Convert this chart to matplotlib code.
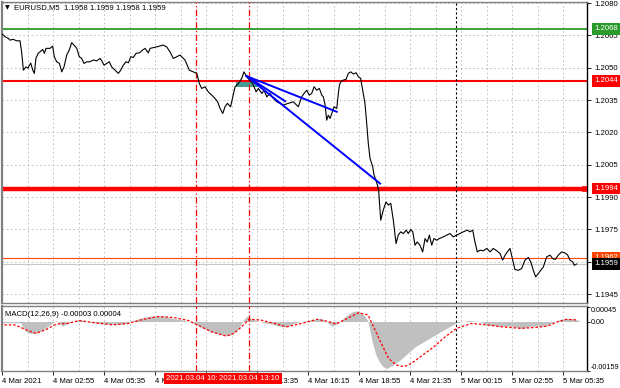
import numpy as np
import matplotlib
matplotlib.use("Agg")
import matplotlib.pyplot as plt
import matplotlib.transforms as mtransforms
from matplotlib.patches import Rectangle

plt.rcParams['font.family'] = ['Liberation Sans', 'DejaVu Sans']

#%% data (x = 5-minute bar number since 4 Mar 2021 00:00)

price_bars = [2.8, 4.9, 7.0, 8.0, 9.9, 12.2, 14.3, 15.4, 16.4, 18.1, 19.3, 21.0, 22.3, 23.3, 24.3,
              25.8, 26.9, 28.5, 29.6, 30.6, 33.1, 34.8, 35.8, 37.3, 39.0, 40.5, 41.9, 43.6, 45.2,
              46.7, 48.2, 49.9, 51.5, 53.0, 54.5, 56.2, 58.2, 60.3, 62.4, 64.5, 65.6, 67.0, 68.7,
              70.3, 71.8, 73.9, 76.0, 77.5, 79.1, 80.8, 82.3, 83.8, 85.4, 87.1, 89.2, 90.7, 92.7,
              94.8, 95.9, 100.1, 104.0, 106.3, 108.4, 110.5, 114.7, 117.8, 120.5, 123.0, 125.2,
              126.8, 128.3, 130.4, 132.4, 134.6, 136.6, 138.3, 139.8, 141.5, 142.9, 144.4, 146.4,
              147.8, 149.2, 151.3, 153.4, 154.8, 156.5, 158.2, 160.3, 162.4, 163.8, 166.0, 167.4,
              169.1, 171.1, 173.2, 175.4, 177.4, 179.5, 182.6, 185.8, 188.9, 191.0, 192.5, 194.2,
              195.8, 197.3, 198.8, 200.4, 202.1, 203.6, 204.6, 205.7, 206.7, 207.7, 208.8, 209.9,
              211.3, 213.0, 214.0, 214.7, 215.5, 217.2, 218.8, 220.3, 221.8, 223.4, 225.1, 226.6,
              228.0, 229.3, 230.7, 231.8, 232.8, 233.9, 235.6, 236.4, 237.6, 238.5, 239.3, 239.7,
              240.6, 242.2, 243.9, 245.4, 246.9, 248.5, 250.2, 251.6, 253.1, 254.8, 256.5, 257.9,
              259.4, 260.7, 262.1, 263.5, 265.2, 266.9, 268.4, 269.8, 271.1, 272.6, 274.0, 275.7,
              277.4, 279.9, 282.0, 284.1, 286.1, 288.3, 290.3, 292.4, 294.9, 296.6, 298.3, 299.7,
              301.2, 302.9, 305.0, 307.1, 309.2, 311.2, 313.4, 315.4, 317.1, 318.6, 320.0, 321.7,
              323.4, 324.8, 326.9, 329.0, 331.1, 333.2, 334.7, 336.3, 337.8, 339.5, 341.0, 342.6,
              344.7, 346.8, 348.5, 350.0, 352.0, 354.1, 356.2, 357.9, 359.3, 361.0, 362.0, 363.5]
price_vals = [1.20659, 1.20644, 1.20636, 1.20628, 1.20632, 1.20625, 1.20625, 1.20568, 1.20489,
              1.20504, 1.20498, 1.20522, 1.20489, 1.20474, 1.20545, 1.20568, 1.20574, 1.20585,
              1.20567, 1.20590, 1.20590, 1.20600, 1.20551, 1.20528, 1.20520, 1.20481, 1.20504,
              1.20559, 1.20582, 1.20616, 1.20605, 1.20590, 1.20551, 1.20543, 1.20520, 1.20528,
              1.20528, 1.20536, 1.20532, 1.20543, 1.20532, 1.20512, 1.20520, 1.20528, 1.20504,
              1.20489, 1.20474, 1.20489, 1.20512, 1.20528, 1.20523, 1.20551, 1.20548, 1.20567,
              1.20569, 1.20579, 1.20590, 1.20569, 1.20590, 1.20597, 1.20605, 1.20597, 1.20574,
              1.20543, 1.20559, 1.20536, 1.20489, 1.20481, 1.20474, 1.20427, 1.20404, 1.20412,
              1.20388, 1.20373, 1.20358, 1.20342, 1.20311, 1.20288, 1.20319, 1.20335, 1.20319,
              1.20365, 1.20412, 1.20427, 1.20451, 1.20481, 1.20458, 1.20443, 1.20427, 1.20388,
              1.20404, 1.20381, 1.20396, 1.20365, 1.20381, 1.20358, 1.20342, 1.20335, 1.20327,
              1.20335, 1.20342, 1.20319, 1.20365, 1.20381, 1.20396, 1.20373, 1.20381, 1.20412,
              1.20396, 1.20404, 1.20373, 1.20365, 1.20327, 1.20257, 1.20280, 1.20265, 1.20288,
              1.20319, 1.20311, 1.20381, 1.20420, 1.20435, 1.20443, 1.20446, 1.20474, 1.20481,
              1.20471, 1.20477, 1.20458, 1.20451, 1.20396, 1.20335, 1.20242, 1.20149, 1.20079,
              1.20040, 1.20002, 1.19979, 1.19956, 1.19932, 1.19886, 1.19793, 1.19840, 1.19878,
              1.19863, 1.19871, 1.19793, 1.19685, 1.19724, 1.19739, 1.19731, 1.19747, 1.19731,
              1.19750, 1.19739, 1.19677, 1.19692, 1.19677, 1.19646, 1.19708, 1.19692, 1.19724,
              1.19677, 1.19708, 1.19700, 1.19708, 1.19716, 1.19724, 1.19731, 1.19716, 1.19724,
              1.19731, 1.19739, 1.19747, 1.19739, 1.19747, 1.19692, 1.19646, 1.19654, 1.19651,
              1.19662, 1.19646, 1.19662, 1.19651, 1.19639, 1.19608, 1.19631, 1.19646, 1.19662,
              1.19608, 1.19564, 1.19561, 1.19569, 1.19608, 1.19620, 1.19600, 1.19561, 1.19530,
              1.19546, 1.19561, 1.19576, 1.19623, 1.19631, 1.19615, 1.19611, 1.19631, 1.19646,
              1.19641, 1.19631, 1.19608, 1.19600, 1.19584, 1.19590]

macd_bars = [1.8, 14.8, 16.0, 18.3, 20.7, 24.2, 27.8, 31.4, 34.9, 37.3, 40.8, 44.4, 49.1, 51.5,
             56.2, 63.3, 72.8, 79.9, 84.6, 89.4, 96.5, 103.6, 110.7, 117.8, 122.5, 127.2, 134.3,
             141.4, 146.2, 149.7, 152.1, 154.5, 156.8, 159.2, 162.7, 167.5, 172.2, 178.1, 181.7,
             186.4, 191.2, 195.9, 203.0, 206.5, 210.1, 213.6, 216.0, 219.6, 223.1, 226.7, 230.2,
             232.6, 235.0, 237.3, 239.7, 242.0, 244.4, 248.0, 252.7, 257.4, 262.2, 269.3, 276.4,
             283.5, 288.2, 295.3, 302.4, 307.2, 314.3, 321.4, 328.5, 335.6, 342.7, 347.4, 352.1,
             356.9, 361.6, 365.2]
macd_vals = [-0.00004, -0.00004, -0.00017, -0.00033, -0.00038, -0.00038, -0.00030, -0.00017,
             -0.00004, 0.00003, -0.00015, -0.00006, 0.00003, 0.00007, 0.0, -0.00006, -0.00009,
             -0.00008, 0.00002, 0.00010, 0.00018, 0.00018, 0.00010, 0.00003, -0.00004, -0.00017,
             -0.00033, -0.00044, -0.00044, -0.00033, -0.00017, 0.00005, 0.00018, 0.00010,
             0.00003, -0.00004, -0.00008, -0.00017, -0.00017, -0.00006, 0.0, 0.00005, 0.00010,
             0.0, -0.00015, -0.00006, 0.00005, 0.00021, 0.00032, 0.00034, 0.00021, 0.0,
             -0.00060, -0.00103, -0.00129, -0.00145, -0.00151, -0.00140, -0.00124, -0.00103,
             -0.00081, -0.00060, -0.00038, -0.00017, -0.00004, 0.00003, 0.0, -0.00011, -0.00015,
             -0.00015, -0.00022, -0.00015, -0.00015, -0.00006, 0.00005, 0.00010, 0.00008, 0.00003]

signal_bars = [1.8, 11.2, 18.3, 24.2, 30.2, 37.3, 44.4, 51.5, 61.0, 72.8, 82.3, 91.7, 101.2,
               110.7, 120.1, 127.2, 134.3, 143.8, 148.5, 153.3, 158.0, 165.1, 172.2, 181.7,
               191.2, 200.6, 207.7, 212.5, 219.6, 226.7, 232.6, 236.1, 240.9, 245.6, 250.3,
               255.1, 259.8, 266.9, 274.0, 281.1, 288.2, 297.7, 307.2, 316.6, 328.5, 338.0,
               345.1, 352.1, 356.9, 364.0]
signal_vals = [-0.00011, -0.00011, -0.00027, -0.00038, -0.00027, -0.00008, -0.00006, 0.00003,
               -0.00004, -0.00011, -0.00006, 0.00007, 0.00016, 0.00013, 0.00003, -0.00015,
               -0.00033, -0.00047, -0.00038, -0.00017, 0.00007, 0.00005, -0.00004, -0.00017,
               -0.00006, 0.00007, 0.0, -0.00008, 0.00010, 0.00028, 0.00021, -0.00017, -0.00070,
               -0.00119, -0.00140, -0.00145, -0.00135, -0.00108, -0.00081, -0.00049, -0.00022,
               -0.00006, -0.00011, -0.00017, -0.00022, -0.00019, -0.00015, 0.0, 0.00007, 0.00005]

# horizontal levels: (price, colour, width)
level_prices = [1.2068, 1.2044, 1.1994, 1.1962]
level_colors = ['#2a9a2a', '#ff0000', '#ff0000', '#ff4500']
level_widths = [1.3, 1.5, 3.2, 0.8]
bid_price = 1.1959

# trend lines drawn from one anchor
trend_start = (156.5, 1.20461)
trend_ends = [(213.0, 1.20296), (240.2, 1.19963), (180.6, 1.20345)]
box_bars = (149.8, 163.6)
box_prices = (1.20410, 1.2044)

price_ticks = [1.2080, 1.2065, 1.2050, 1.2035, 1.2020, 1.2005, 1.1990, 1.1975, 1.1960, 1.1945]
time_tick_bars = [3, 35, 67, 99, 131, 163, 195, 227, 259, 291, 323, 355]
time_tick_labels = ['4 Mar 2021', '4 Mar 02:55', '4 Mar 05:35', '4 Mar 08:15', '4 Mar 10:55',
                    '4 Mar 13:35', '4 Mar 16:15', '4 Mar 18:55', '4 Mar 21:35', '5 Mar 00:15',
                    '5 Mar 02:55', '5 Mar 05:35']
marker_bars = [125, 158]
marker_labels = ['2021.03.04 10:25', '2021.03.04 13:10']
day_break = 288

#%%
W, H = 620, 388
fig = plt.figure(figsize=(W / 100, H / 100), dpi=100)
fs = 5.6
grid_kw = dict(color='#b8b8b8', lw=0.6, ls=(0, (2, 3)), zorder=0)

ax = fig.add_axes([2 / W, 1 - 303 / H, 585 / W, 301 / H])
ax2 = fig.add_axes([2 / W, 1 - 371 / H, 585 / W, 65 / H])

for a in (ax, ax2):
    a.set_xlim(3.0, 370.0)
    for b in np.arange(19, 370, 16):
        a.axvline(b, **grid_kw)
    for b in marker_bars:
        a.axvline(b, color='#ff0000', lw=0.9, ls=(0, (5, 2, 1, 2)), zorder=3)
    a.axvline(day_break, color='black', lw=0.8, ls=(0, (2, 2)), zorder=3)
    for s in a.spines.values():
        s.set_color('#808080')
        s.set_linewidth(1.0)
    a.spines['left'].set_linewidth(1.6)
    a.spines['right'].set_color('black')
    a.yaxis.tick_right()
    a.tick_params(axis='y', direction='out', length=3, width=0.6, pad=2,
                  labelsize=fs, colors='black')

# main price panel
ax.set_ylim(1.19409, 1.20805)
for p in price_ticks:
    ax.axhline(p, **grid_kw)
ax.set_yticks(price_ticks)
ax.set_yticklabels(['%.4f' % p for p in price_ticks])
ax.set_xticks([])

ax.add_patch(Rectangle((box_bars[0], box_prices[0]), box_bars[1] - box_bars[0],
                       box_prices[1] - box_prices[0], color='#459d96', lw=0, zorder=1))
ax.axhline(bid_price, color='#c8c8c8', lw=0.8, zorder=1)
for p, c, w in zip(level_prices, level_colors, level_widths):
    ax.axhline(p, color=c, lw=w, zorder=2)
ax.plot(price_bars, price_vals, color='black', lw=0.8, zorder=4)
for e in trend_ends:
    ax.plot([trend_start[0], e[0]], [trend_start[1], e[1]], color='#0000ff', lw=1.4, zorder=5)

tr = mtransforms.blended_transform_factory(ax.transAxes, ax.transData)
box_colors = level_colors + ['black']
for p, c in zip(level_prices + [bid_price], box_colors):
    ax.text(1.012, p, '%.4f' % p, transform=tr, ha='left', va='center', fontsize=fs,
            color='white', clip_on=False, zorder=10,
            bbox=dict(boxstyle='square,pad=0.3', fc=c, ec='none'))
ax.plot([0.992, 1.0], [1.1994, 1.1994], transform=tr, color='#ff0000', lw=4,
        solid_capstyle='butt', clip_on=False, zorder=6)

# MACD panel
ax2.set_ylim(-0.00159, 0.000498)
ax2.fill_between(macd_bars, 0, macd_vals, color='#c0c0c0', lw=0, zorder=1)
ax2.plot(signal_bars, signal_vals, color='#ff0000', lw=0.9, ls=(0, (2, 1.5)), zorder=4)
ax2.set_yticks([0.00045, 0.0, -0.00159])
ax2.set_yticklabels(['0.00045', '0.00', '-0.00159'])
ax2.tick_params(axis='y', length=2, pad=0.8, labelsize=5.2)
lbls = ax2.get_yticklabels()
lbls[0].set_va('top')
lbls[2].set_va('bottom')
ax2.set_xticks(time_tick_bars)
ax2.set_xticklabels(time_tick_labels, ha='left')
ax2.tick_params(axis='x', direction='out', length=3, width=0.6, pad=2, labelsize=fs)

trx = mtransforms.blended_transform_factory(ax2.transData, ax2.transAxes)
for b, t in zip(marker_bars, marker_labels):
    ax2.text(b, -0.115, t, transform=trx, ha='center', va='center', fontsize=fs,
             color='white', clip_on=False, zorder=10,
             bbox=dict(boxstyle='square,pad=0.3', fc='#ff0000', ec='none'))

fig.text(5 / W, 1 - 8 / H, '\u25bc', fontsize=4.5, va='center', ha='left', family='DejaVu Sans')
fig.text(14 / W, 1 - 8 / H, 'EURUSD,M5  1.1958 1.1959 1.1958 1.1959', fontsize=fs,
         va='center', ha='left')
fig.text(5 / W, 1 - 315 / H, 'MACD(12,26,9) -0.00003 0.00004', fontsize=fs,
         va='center', ha='left')

fig.savefig('out.png', dpi=100)
